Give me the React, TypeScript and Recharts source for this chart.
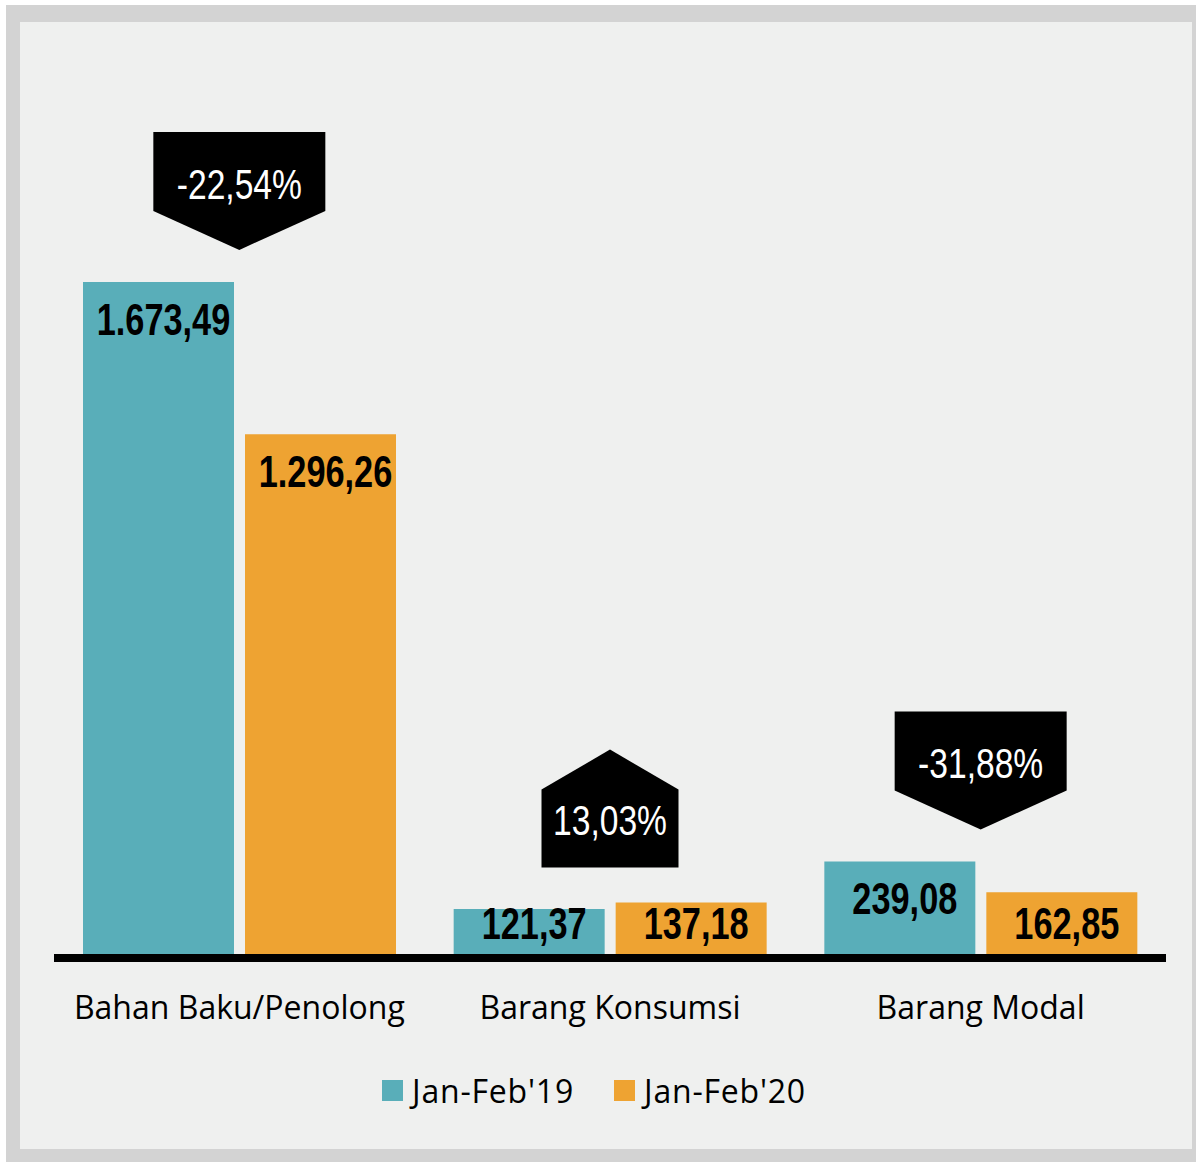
import React from "react";
import {
  BarChart,
  Bar,
  XAxis,
  YAxis,
  Legend,
  LabelList,
  ReferenceDot,
} from "recharts";

const categories = ["Bahan Baku/Penolong", "Barang Konsumsi", "Barang Modal"];
const jan19 = [1673.49, 121.37, 239.08];
const jan20 = [1296.26, 137.18, 162.85];
const growth = ["-22,54%", "13,03%", "-31,88%"];
const seriesNames = ["Jan-Feb'19", "Jan-Feb'20"];

const TEAL = "#59aeb9";
const ORANGE = "#eea332";
const ARIALISH = "'Liberation Sans', Arial, sans-serif";
const SANS = "'Open Sans', 'Noto Sans', sans-serif";

const data = categories.map((name, i) => ({
  name,
  jan19: jan19[i],
  jan20: jan20[i],
}));

// 1673.49 -> "1.673,49"
const fmt = (v: number) => {
  const [int, dec] = v.toFixed(2).split(".");
  return int.replace(/\B(?=(\d{3})+(?!\d))/g, ".") + "," + dec;
};

// no narrow font installed, so squeeze Liberation Sans horizontally
const NarrowText = ({ x, y, children, scale, ...rest }: any) => (
  <text transform={`translate(${x},${y}) scale(${scale},1)`} textAnchor="middle" fontFamily={ARIALISH} {...rest}>
    {children}
  </text>
);

const ValueLabel = (props: any) => {
  const { x, y, width, height, value } = props;
  const cy = Math.min(y + 37, y + height - 35);
  return (
    <NarrowText x={x + width / 2 + 5} y={cy + 16} scale={0.78} fontWeight="bold" fontSize={44} fill="#000">
      {fmt(value)}
    </NarrowText>
  );
};

const Callout = ({ cx, cy, text }: { cx: number; cy: number; text: string }) => {
  const down = text.startsWith("-");
  const w = down ? 172 : 137;
  const l = cx - w / 2;
  const r = cx + w / 2;
  let d: string;
  let ty: number;
  if (down) {
    const top = cy - 150;
    const bottom = cy - 71;
    const tip = cy - 32;
    d = `M${l},${top}L${r},${top}L${r},${bottom}L${cx},${tip}L${l},${bottom}Z`;
    ty = cy - 98;
  } else {
    const tip = cy - 153;
    const top = cy - 113;
    const bottom = cy - 35;
    d = `M${cx},${tip}L${r},${top}L${r},${bottom}L${l},${bottom}L${l},${top}Z`;
    ty = cy - 83;
  }
  return (
    <g>
      <path d={d} fill="#000" />
      <NarrowText x={cx} y={ty + 15} scale={0.8} fontSize={42} fill="#fff">
        {text}
      </NarrowText>
    </g>
  );
};

const CategoryTick = (props: any) => {
  const { x, y, payload } = props;
  return (
    <text x={x} y={y + 53} textAnchor="middle" fontFamily={SANS} fontSize={32} fill="#000">
      {payload.value}
    </text>
  );
};

const LegendContent = () => (
  <div
    style={{
      height: 44,
      display: "flex",
      justifyContent: "center",
      alignItems: "center",
      fontFamily: SANS,
      fontSize: 32,
      color: "#000",
      paddingRight: 8,
    }}
  >
    {seriesNames.map((n, i) => (
      <div key={n} style={{ display: "flex", alignItems: "center", marginLeft: i ? 40 : 0 }}>
        <span
          style={{
            width: 21,
            height: 21,
            background: i ? ORANGE : TEAL,
            marginRight: 9,
            display: "inline-block",
          }}
        />
        <span style={{ letterSpacing: 0.8 }}>{n}</span>
      </div>
    ))}
  </div>
);

export default function App() {
  return (
    <div style={{ position: "absolute", left: 0, top: 0, width: 1196, height: 1162 }}>
      <div style={{ position: "absolute", left: 6, top: 5, width: 1190, height: 1157, background: "#d3d3d3" }} />
      <div style={{ position: "absolute", left: 20, top: 22, width: 1172, height: 1127, background: "#eff0ef" }} />
      <div style={{ position: "absolute", left: 0, top: 0 }}>
        <BarChart
          width={1196}
          height={1162}
          data={data}
          margin={{ top: 150, right: 30, left: 54, bottom: 50 }}
          barSize={151}
          barGap={11}
        >
          <YAxis hide domain={[0, 2000]} />
          <Bar dataKey="jan19" name={seriesNames[0]} fill={TEAL} isAnimationActive={false}>
            <LabelList dataKey="jan19" content={ValueLabel} />
          </Bar>
          <Bar dataKey="jan20" name={seriesNames[1]} fill={ORANGE} isAnimationActive={false}>
            <LabelList dataKey="jan20" content={ValueLabel} />
          </Bar>
          <XAxis
            dataKey="name"
            height={110}
            tickLine={false}
            axisLine={{ stroke: "#000", strokeWidth: 8 }}
            tick={<CategoryTick />}
            interval={0}
          />
          {categories.map((c, i) => (
            <ReferenceDot
              key={c}
              x={c}
              y={Math.max(jan19[i], jan20[i])}
              r={0}
              ifOverflow="visible"
              shape={(p: any) => <Callout cx={p.cx} cy={p.cy} text={growth[i]} />}
            />
          ))}
          <Legend
            verticalAlign="bottom"
            content={<LegendContent />}
            wrapperStyle={{ left: 0, width: 1196, height: 44 }}
          />
        </BarChart>
      </div>
    </div>
  );
}
